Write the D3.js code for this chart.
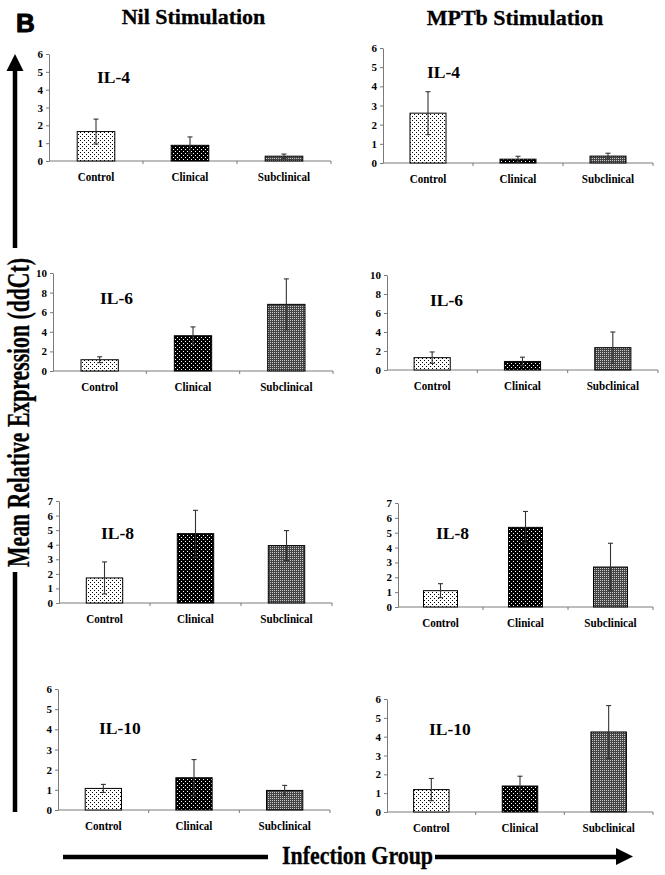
<!DOCTYPE html>
<html><head><meta charset="utf-8">
<script src="https://cdn.jsdelivr.net/npm/d3@7"></script>
<style>body{margin:0;background:#fff} svg{display:block}</style>
</head><body>
<script>
// ---------------- data ----------------
const categories = ["Control", "Clinical", "Subclinical"];
const cytokines = ["IL-4", "IL-6", "IL-8", "IL-10"];
const stimulations = ["Nil Stimulation", "MPTb Stimulation"];
const nilMeans   = [[1.65, 0.88, 0.27], [1.15, 3.6, 6.8], [1.72, 4.76, 3.94], [1.07, 1.6, 0.97]];
const nilErrors  = [[0.70, 0.47, 0.12], [0.30, 0.9, 2.6], [1.10, 1.60, 1.03], [0.20, 0.9, 0.25]];
const mptbMeans  = [[2.60, 0.20, 0.36], [1.30, 0.90, 2.35], [1.10, 5.36, 2.69], [1.19, 1.38, 4.25]];
const mptbErrors = [[1.12, 0.15, 0.15], [0.60, 0.45, 1.65], [0.47, 1.07, 1.60], [0.59, 0.52, 1.40]];
const yTickLabels = [[0,1,2,3,4,5,6], [0,2,4,6,8,10], [0,1,2,3,4,5,6,7], [0,1,2,3,4,5,6]];
const yAxisTitle = "Mean Relative Expression (ddCt)";
const xAxisTitle = "Infection Group";
const panelLetter = "B";

// ---------------- layout ----------------
const W = 665, H = 875;
const layout = [
  [{x0:49, x1:331, yT:54,  yB:161, lx:97,  ly:83},  {x0:383, x1:653, yT:48,  yB:163, lx:427, ly:78}],
  [{x0:53, x1:333, yT:273, yB:371, lx:100, ly:304}, {x0:387, x1:658, yT:275, yB:370, lx:430, ly:306}],
  [{x0:59, x1:332, yT:501, yB:603, lx:101, ly:539}, {x0:398, x1:653, yT:503, yB:607, lx:436, ly:539}],
  [{x0:58, x1:330, yT:689, yB:810, lx:99,  ly:734}, {x0:387, x1:653, yT:699, yB:812, lx:429, ly:735}]
];
const titlePos = [{x:193.5, y:24}, {x:515, y:25}];
const serif = "'Liberation Serif','Times New Roman',serif";
const axisColor = "#7a7a7a";

const svg = d3.select("body").append("svg").attr("width", W).attr("height", H);

// patterns
const defs = svg.append("defs");
function pat(id, bg, fg, pts) {
  const p = defs.append("pattern").attr("id", id).attr("patternUnits", "userSpaceOnUse")
    .attr("width", 4).attr("height", 4);
  p.append("rect").attr("width", 4).attr("height", 4).attr("fill", bg);
  pts.forEach(([x, y]) => p.append("rect").attr("x", x).attr("y", y).attr("width", 1).attr("height", 1).attr("fill", fg));
}
pat("pControl", "#ffffff", "#000000", [[0,0],[2,2]]);
pat("pClinical", "#000000", "#ffffff", [[1,1],[3,3]]);
pat("pSub", "#454545", "#c8c8c8", [[0,0],[2,2],[0,2],[2,0]]);
const fills = ["url(#pControl)", "url(#pClinical)", "url(#pSub)"];

// letter
svg.append("text").attr("x", 16).attr("y", 32).text(panelLetter)
  .attr("font-family", "'Liberation Sans',Arial,sans-serif").attr("font-weight", 900)
  .attr("font-size", 26).attr("stroke", "#000").attr("stroke-width", 1);

// column titles
stimulations.forEach((s, i) => {
  svg.append("text").attr("x", titlePos[i].x).attr("y", titlePos[i].y).text(s)
    .attr("text-anchor", "middle").attr("font-family", serif).attr("font-weight", "bold")
    .attr("font-size", 22).attr("stroke", "#000").attr("stroke-width", 0.3);
});

const meansAll = [nilMeans, mptbMeans];
const errsAll = [nilErrors, mptbErrors];

cytokines.forEach((cy, r) => {
  [0, 1].forEach(c => {
    const L = layout[r][c];
    const ticks = yTickLabels[r];
    const y = d3.scaleLinear().domain([0, d3.max(ticks)]).range([L.yB, L.yT]);
    const x = d3.scaleBand().domain(categories).range([L.x0, L.x1]).paddingInner(0.6).paddingOuter(0.3);
    const g = svg.append("g");

    // y axis
    const ya = g.append("g").attr("transform", `translate(${L.x0},0)`)
      .call(d3.axisLeft(y).tickValues(ticks).tickSize(3).tickSizeOuter(0).tickFormat(d3.format("d")));
    ya.select(".domain").attr("stroke", axisColor);
    ya.selectAll(".tick line").attr("stroke", axisColor);
    ya.selectAll(".tick text").attr("font-family", serif).attr("font-weight", "bold")
      .attr("font-size", 11).attr("fill", "#000").attr("x", -6);

    // x axis line + boundary ticks
    g.append("line").attr("x1", L.x0).attr("x2", L.x1).attr("y1", L.yB).attr("y2", L.yB)
      .attr("stroke", axisColor);
    const step = x.step();
    g.selectAll(".bt").data(categories).enter().append("line")
      .attr("x1", d => x(d) + x.bandwidth() + step * 0.3).attr("x2", d => x(d) + x.bandwidth() + step * 0.3)
      .attr("y1", L.yB).attr("y2", L.yB + 3).attr("stroke", axisColor);

    const means = meansAll[c][r], errs = errsAll[c][r];
    const data = categories.map((k, i) => ({k, m: means[i], e: errs[i], f: fills[i]}));

    // bars
    g.selectAll(".bar").data(data).enter().append("rect")
      .attr("x", d => x(d.k)).attr("width", x.bandwidth())
      .attr("y", d => y(d.m)).attr("height", d => L.yB - y(d.m))
      .attr("fill", d => d.f).attr("stroke", "#000").attr("stroke-width", 1);

    // error bars
    const eb = g.selectAll(".eb").data(data).enter().append("g").attr("stroke", "#333").attr("stroke-width", 1.1);
    eb.append("line").attr("x1", d => x(d.k) + x.bandwidth() / 2).attr("x2", d => x(d.k) + x.bandwidth() / 2)
      .attr("y1", d => y(d.m + d.e)).attr("y2", d => y(Math.max(0, d.m - d.e)));
    eb.append("line").attr("x1", d => x(d.k) + x.bandwidth() / 2 - 2.5).attr("x2", d => x(d.k) + x.bandwidth() / 2 + 2.5)
      .attr("y1", d => y(d.m + d.e)).attr("y2", d => y(d.m + d.e));
    eb.append("line").attr("x1", d => x(d.k) + x.bandwidth() / 2 - 2.5).attr("x2", d => x(d.k) + x.bandwidth() / 2 + 2.5)
      .attr("y1", d => y(Math.max(0, d.m - d.e))).attr("y2", d => y(Math.max(0, d.m - d.e)));

    // category labels
    g.selectAll(".cl").data(categories).enter().append("text")
      .attr("x", d => x(d) + x.bandwidth() / 2).attr("y", L.yB + 20)
      .attr("text-anchor", "middle").attr("font-family", serif).attr("font-weight", "bold")
      .attr("font-size", 13.5).text(d => d)
      .each(function () {
        const n = this.getComputedTextLength();
        d3.select(this).attr("textLength", n * 0.82).attr("lengthAdjust", "spacingAndGlyphs");
      });

    // cytokine label
    g.append("text").attr("x", L.lx).attr("y", L.ly).text(cy)
      .attr("font-family", serif).attr("font-weight", "bold").attr("font-size", 17.5);
  });
});

// y-axis title with arrow
const yt = svg.append("g");
yt.append("line").attr("x1", 15).attr("x2", 15).attr("y1", 68).attr("y2", 248)
  .attr("stroke", "#000").attr("stroke-width", 4.5);
yt.append("line").attr("x1", 15).attr("x2", 15).attr("y1", 572).attr("y2", 812)
  .attr("stroke", "#000").attr("stroke-width", 4.5);
yt.append("path").attr("d", "M15,54 L23.5,71 L6.5,71 Z").attr("fill", "#000");
yt.append("text").attr("transform", "translate(29,412.5) rotate(-90)")
  .attr("text-anchor", "middle").attr("font-family", serif).attr("font-weight", "bold")
  .attr("font-size", 31).attr("textLength", 309).attr("lengthAdjust", "spacingAndGlyphs")
  .attr("stroke", "#000").attr("stroke-width", 0.3)
  .text(yAxisTitle);

// x-axis title with arrow
const xt = svg.append("g");
xt.append("line").attr("x1", 63).attr("x2", 268).attr("y1", 857).attr("y2", 857)
  .attr("stroke", "#000").attr("stroke-width", 4.5);
xt.append("line").attr("x1", 435).attr("x2", 619).attr("y1", 857).attr("y2", 857)
  .attr("stroke", "#000").attr("stroke-width", 4.5);
xt.append("path").attr("d", "M633,856.5 L616,848 L616,865 Z").attr("fill", "#000");
xt.append("text").attr("x", 357.5).attr("y", 864).attr("text-anchor", "middle")
  .attr("font-family", serif).attr("font-weight", "bold").attr("font-size", 25)
  .attr("textLength", 151).attr("lengthAdjust", "spacingAndGlyphs")
  .attr("stroke", "#000").attr("stroke-width", 0.3).text(xAxisTitle);
</script>
</body></html>
